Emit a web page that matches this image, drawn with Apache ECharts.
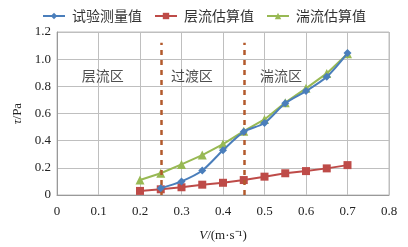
<!DOCTYPE html>
<html>
<head>
<meta charset="utf-8">
<script src="https://cdn.jsdelivr.net/npm/echarts@6/dist/echarts.min.js"></script>
<style>
  html, body { margin: 0; padding: 0; background: #fff; }
  #main { width: 408px; height: 247px; }
</style>
</head>
<body>
<div id="main"></div>
<script>
// 流速 V (m/s)
var velocity = [0.2, 0.25, 0.3, 0.35, 0.4, 0.45, 0.5, 0.55, 0.6, 0.65, 0.7];
// 剪切应力 τ (Pa)
var measured = [null, 0.05, 0.10, 0.18, 0.33, 0.465, 0.53, 0.675, 0.765, 0.87, 1.045];
var laminar = [0.03, 0.042, 0.057, 0.076, 0.09, 0.11, 0.135, 0.16, 0.176, 0.196, 0.22];
var turbulent = [0.11, 0.16, 0.225, 0.294, 0.375, 0.47, 0.556, 0.68, 0.785, 0.895, 1.04];
// 分区边界与标注
var boundaries = [0.25, 0.45];
var boundaryTop = 1.12;
var zoneNames = ['层流区', '过渡区', '湍流区'];
var zonePos = [[0.11, 0.88], [0.325, 0.88], [0.54, 0.88]];
var xTicks = [0, 0.1, 0.2, 0.3, 0.4, 0.5, 0.6, 0.7, 0.8];
var yTicks = [0, 0.2, 0.4, 0.6, 0.8, 1.0, 1.2];

function pairs(vals) {
  var out = [];
  vals.forEach(function (v, i) {
    if (v !== null) out.push([velocity[i], v]);
  });
  return out;
}

var serif = '"Liberation Serif", "Noto Sans CJK SC", serif';
var cjk = '"Noto Sans CJK SC", "Liberation Serif", serif';

var chart = echarts.init(document.getElementById('main'), null, { renderer: 'canvas' });

var dashLines = boundaries.map(function (b) {
  return [{ coord: [b, 0] }, { coord: [b, boundaryTop] }];
});

chart.setOption({
  animation: false,
  backgroundColor: '#fff',
  textStyle: { fontFamily: serif },
  legend: {
    top: 4,
    left: 'center',
    itemWidth: 22,
    itemHeight: 8,
    itemGap: 12,
    textStyle: { fontFamily: cjk, fontSize: 14, color: '#333', padding: [0, 0, 0, 2] },
    data: ['试验测量值', '层流估算值', '湍流估算值']
  },
  grid: { left: 57, right: 19, top: 32, bottom: 52, show: true, borderColor: '#bfbfbf', borderWidth: 1 },
  xAxis: {
    type: 'value',
    min: xTicks[0],
    max: xTicks[xTicks.length - 1],
    interval: 0.1,
    name: '{i|V}/(m·s⁻¹)',
    nameLocation: 'middle',
    nameGap: 34,
    nameTextStyle: {
      fontFamily: serif, fontSize: 13, color: '#222',
      rich: { i: { fontStyle: 'italic', fontFamily: serif, fontSize: 13, color: '#222' } }
    },
    axisLine: { show: true, lineStyle: { color: '#999' } },
    axisTick: { show: false },
    splitLine: { show: true, lineStyle: { color: '#bfbfbf' } },
    axisLabel: {
      fontFamily: serif, fontSize: 13, color: '#222', margin: 10,
      formatter: function (v) { return v === 0 ? '0' : v.toFixed(1); }
    }
  },
  yAxis: {
    type: 'value',
    min: yTicks[0],
    max: yTicks[yTicks.length - 1],
    interval: 0.2,
    name: '{i|τ}/Pa',
    nameLocation: 'middle',
    nameRotate: 90,
    nameGap: 26,
    nameTextStyle: {
      fontFamily: serif, fontSize: 13, color: '#222',
      rich: { i: { fontStyle: 'italic', fontFamily: serif, fontSize: 13, color: '#222' } }
    },
    axisLine: { show: true, lineStyle: { color: '#999' } },
    axisTick: { show: false },
    splitLine: { show: true, lineStyle: { color: '#bfbfbf' } },
    axisLabel: {
      fontFamily: serif, fontSize: 13, color: '#222', margin: 6,
      formatter: function (v) { return v === 0 ? '0' : v.toFixed(1); }
    }
  },
  series: [
    {
      name: '分界',
      type: 'line',
      data: [],
      silent: true,
      markLine: {
        symbol: 'none',
        silent: true,
        label: { show: false },
        lineStyle: { color: '#b35a2c', type: [5, 5], width: 2.5 },
        data: dashLines
      }
    },
    {
      name: '层流估算值',
      type: 'line',
      data: pairs(laminar),
      symbol: 'rect',
      symbolSize: 8,
      color: '#be4b48',
      lineStyle: { width: 2 },
      z: 3
    },
    {
      name: '湍流估算值',
      type: 'line',
      data: pairs(turbulent),
      symbol: 'triangle',
      symbolSize: 9,
      color: '#98b954',
      lineStyle: { width: 2 },
      z: 4
    },
    {
      name: '试验测量值',
      type: 'line',
      data: pairs(measured),
      symbol: 'diamond',
      symbolSize: 8,
      smooth: 0.3,
      color: '#4a7ebb',
      lineStyle: { width: 2 },
      z: 5
    },
    {
      name: '区域',
      type: 'scatter',
      symbolSize: 0,
      silent: true,
      data: zonePos.map(function (p, i) { return { value: p, name: zoneNames[i] }; }),
      label: {
        show: true,
        position: 'inside',
        formatter: '{b}',
        fontFamily: cjk,
        fontSize: 14,
        color: '#222'
      }
    }
  ]
});
</script>
</body>
</html>
